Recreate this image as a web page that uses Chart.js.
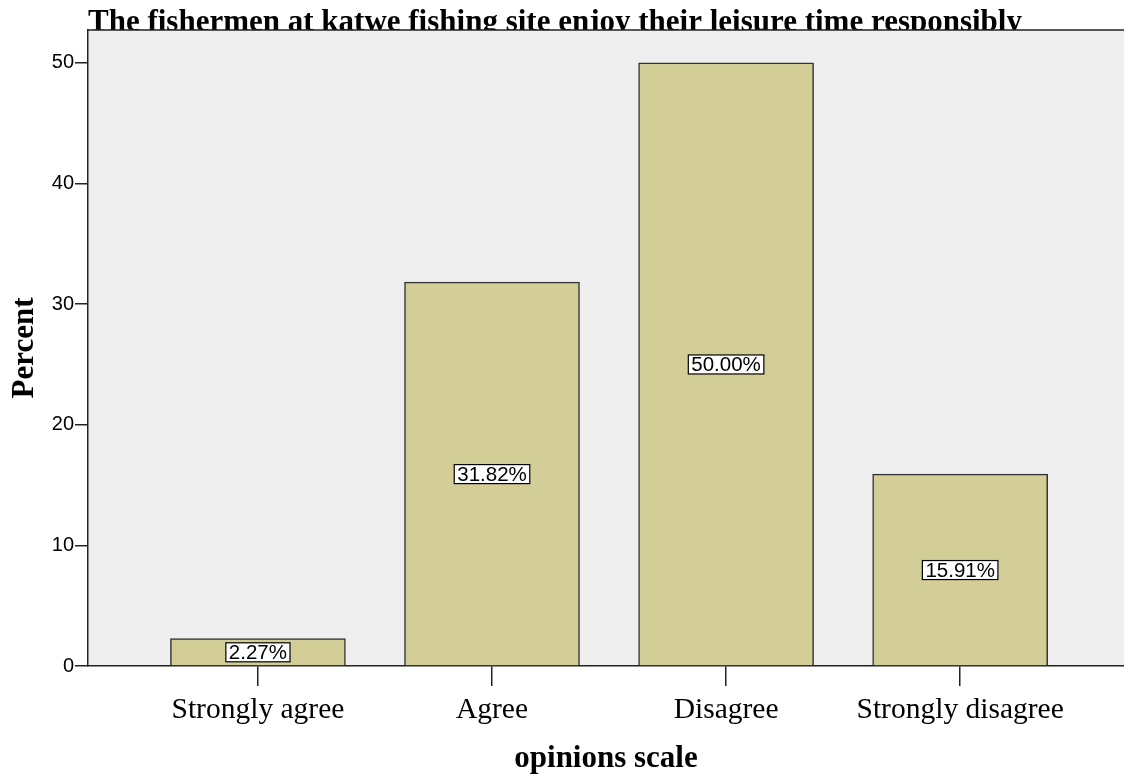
<!DOCTYPE html>
<html>
<head>
<meta charset="utf-8">
<script src="https://cdn.jsdelivr.net/npm/chart.js@4"></script>
<style>
  body { margin: 0; background: #fff; }
</style>
</head>
<body>
<canvas id="barChart" width="1124" height="775"></canvas>
<script>
  const categories = ['Strongly agree', 'Agree', 'Disagree', 'Strongly disagree'];
  const percents = [2.27, 31.82, 50.00, 15.91];
  const yTicks = [0, 10, 20, 30, 40, 50];
  const titleText = 'The fishermen at katwe fishing site enjoy their leisure time responsibly';

  const serif = '"Liberation Serif", "Times New Roman", serif';
  const sans = '"Liberation Sans", Arial, sans-serif';

  // plot background, top border, title (partly hidden behind the plot) and value boxes
  const decor = {
    id: 'decor',
    beforeDraw(chart) {
      const { ctx, chartArea: a } = chart;
      ctx.save();
      ctx.fillStyle = '#000';
      ctx.font = 'bold 31px ' + serif;
      ctx.textAlign = 'left';
      ctx.textBaseline = 'alphabetic';
      ctx.fillText(titleText, a.left, a.top + 1);
      ctx.fillStyle = '#efefef';
      ctx.fillRect(a.left, a.top, a.right - a.left, a.bottom - a.top);
      ctx.strokeStyle = '#222';
      ctx.lineWidth = 1.5;
      ctx.beginPath();
      ctx.moveTo(a.left, a.top);
      ctx.lineTo(a.right, a.top);
      ctx.stroke();
      ctx.restore();
    },
    afterDatasetsDraw(chart) {
      const { ctx } = chart;
      const meta = chart.getDatasetMeta(0);
      const yScale = chart.scales.y;
      ctx.save();
      ctx.font = '20.5px ' + sans;
      ctx.textAlign = 'center';
      ctx.textBaseline = 'middle';
      meta.data.forEach((bar, i) => {
        const txt = percents[i].toFixed(2) + '%';
        const y = yScale.getPixelForValue(percents[i] / 2);
        const w = ctx.measureText(txt).width + 6;
        const h = 19;
        ctx.fillStyle = '#fff';
        ctx.fillRect(bar.x - w / 2, y - h / 2, w, h);
        ctx.strokeStyle = '#000';
        ctx.lineWidth = 1.2;
        ctx.strokeRect(bar.x - w / 2, y - h / 2, w, h);
        ctx.fillStyle = '#000';
        ctx.fillText(txt, bar.x, y + 1);
      });
      ctx.restore();
    }
  };

  const ctx = document.getElementById('barChart');

  new Chart(ctx, {
    type: 'bar',
    data: {
      datasets: [{
        label: 'Percent',
        data: percents.map((v, i) => ({ x: i, y: v })),
        backgroundColor: '#d3ce97',
        borderColor: '#333',
        borderWidth: 1.5,
        barThickness: 175
      }]
    },
    options: {
      responsive: false,
      animation: false,
      layout: { padding: { top: 30, right: 0, left: 0, bottom: 0 } },
      plugins: {
        legend: { display: false },
        tooltip: { enabled: false }
      },
      scales: {
        x: {
          type: 'linear',
          offset: false,
          min: -0.726,
          max: 3.70,
          afterBuildTicks: axis => { axis.ticks = categories.map((c, i) => ({ value: i })); },
          afterFit: scale => { scale.height = 109; },
          ticks: {
            callback: v => categories[v],
            color: '#000',
            font: { family: serif, size: 29.5 },
            padding: 7,
            maxRotation: 0,
            autoSkip: false
          },
          grid: {
            offset: false,
            drawOnChartArea: false,
            drawTicks: true,
            tickLength: 20,
            tickColor: '#222',
            lineWidth: 1.5
          },
          border: { display: true, color: '#222', width: 1.5 },
          title: {
            display: true,
            text: 'opinions scale',
            color: '#000',
            font: { family: serif, size: 31, weight: 'bold', lineHeight: 1.05 },
            padding: { top: 0, bottom: 0 }
          }
        },
        y: {
          min: 0,
          max: 52.73,
          afterBuildTicks: axis => { axis.ticks = yTicks.map(v => ({ value: v })); },
          afterFit: scale => { scale.width = 88; },
          ticks: {
            color: '#000',
            font: { family: sans, size: 20 },
            padding: 1
          },
          grid: {
            drawOnChartArea: false,
            drawTicks: true,
            tickLength: 13,
            tickColor: '#222',
            lineWidth: 1.5
          },
          border: { display: true, color: '#222', width: 1.5 },
          title: {
            display: true,
            text: 'Percent',
            color: '#000',
            font: { family: serif, size: 31, weight: 'bold' },
            padding: { top: 6, bottom: 0 }
          }
        }
      }
    },
    plugins: [decor]
  });
</script>
</body>
</html>
